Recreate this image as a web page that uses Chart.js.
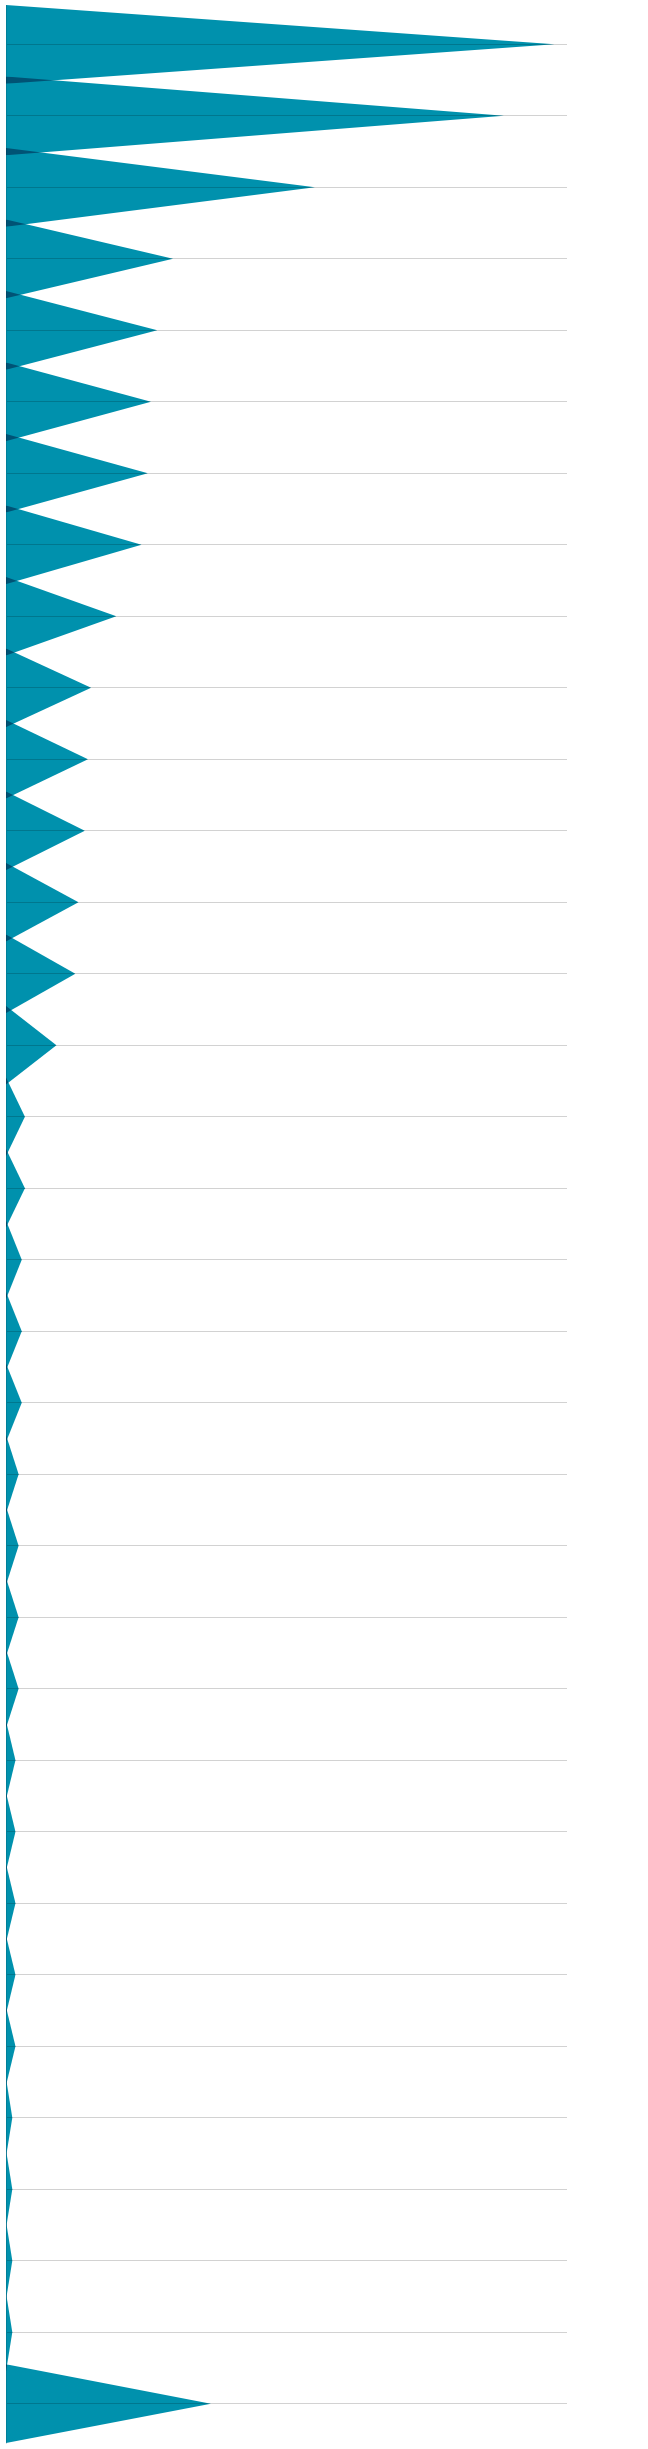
<!DOCTYPE html>
<html>
<head>
<meta charset="utf-8">
<script src="https://cdn.jsdelivr.net/npm/chart.js@4/dist/chart.umd.min.js"></script>
<style>
  html, body { margin: 0; padding: 0; background: #ffffff; }
  #wrap { position: relative; width: 648px; height: 2449px; }
</style>
</head>
<body>
<div id="wrap"><canvas id="c"></canvas></div>
<script>
// Categories (one per band, top to bottom)
const categories = ["1","2","3","4","5","6","7","8","9","10","11","12","13","14","15","16","17",
  "18","19","20","21","22","23","24","25","26","27","28","29","30","31","32","33","34"];
// Value of each band (peak length)
const values = [174, 158, 98, 53, 48, 46, 45, 43, 35, 27, 26, 25, 23, 22, 16, 6, 6,
  5, 5, 5, 4, 4, 4, 4, 3, 3, 3, 3, 3, 2, 2, 2, 2, 65];
const xMax = 178;
const halfWidth = 0.55;

const datasets = values.map((v, i) => ({
  label: categories[i],
  data: [{x: 0, y: i - halfWidth}, {x: v, y: i}, {x: 0, y: i + halfWidth}],
  backgroundColor: '#0091ad',
  borderWidth: 0,
  pointRadius: 0,
  fill: 'origin',
  tension: 0
}));

const multiplyPlugin = {
  id: 'multiply',
  beforeDraw(chart) {
    const ctx = chart.ctx;
    ctx.save();
    ctx.fillStyle = '#ffffff';
    ctx.fillRect(0, 0, chart.width, chart.height);
    ctx.restore();
  },
  beforeDatasetsDraw(chart) {
    chart.ctx.save();
    chart.ctx.globalCompositeOperation = 'multiply';
  },
  afterDatasetsDraw(chart) {
    chart.ctx.restore();
  }
};

new Chart(document.getElementById('c'), {
  type: 'line',
  data: { datasets },
  options: {
    indexAxis: 'y',
    responsive: true,
    maintainAspectRatio: false,
    animation: false,
    layout: { padding: { left: 6, top: 5, right: 81, bottom: 6 } },
    plugins: { legend: { display: false }, tooltip: { enabled: false } },
    scales: {
      x: {
        type: 'linear', min: 0, max: xMax, display: false
      },
      y: {
        type: 'linear', reverse: true,
        min: -halfWidth, max: categories.length - 1 + halfWidth,
        afterBuildTicks(axis) { axis.ticks = categories.map((_, i) => ({ value: i })); },
        ticks: { display: false },
        grid: { color: '#d2d2d2', lineWidth: 1, drawTicks: false },
        border: { display: true, color: '#d6dfe2', width: 1 }
      }
    }
  },
  plugins: [multiplyPlugin]
});
</script>
</body>
</html>
